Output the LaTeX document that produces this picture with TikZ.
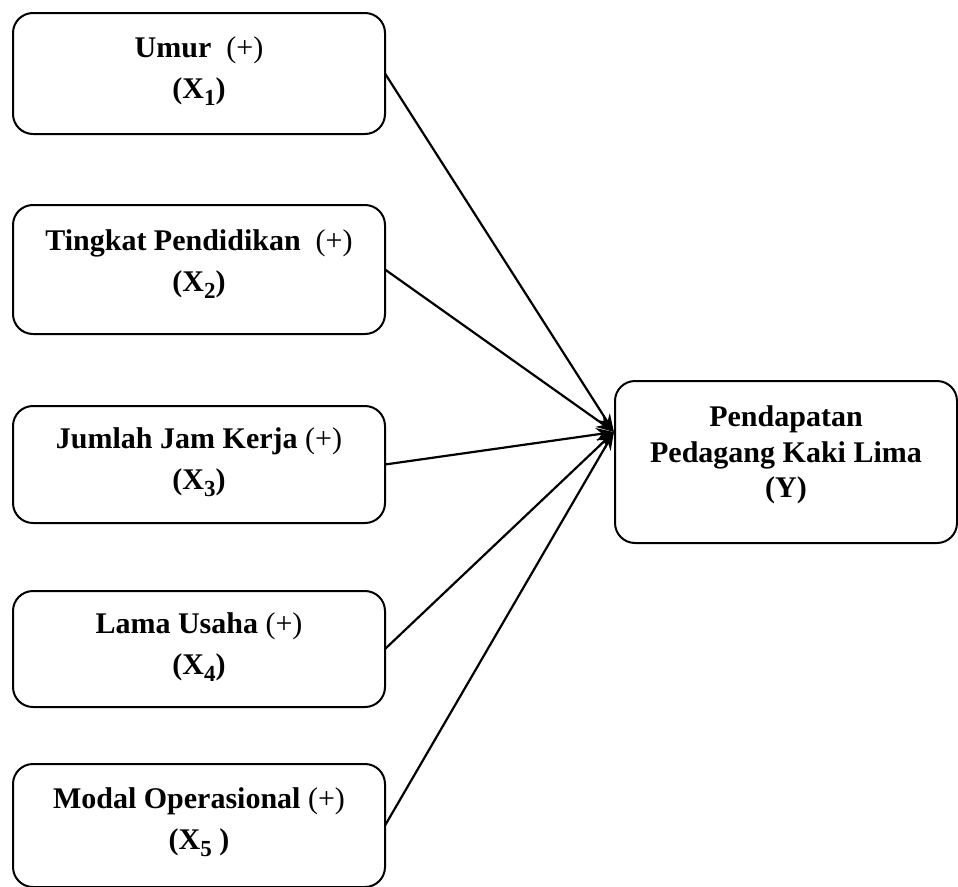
\documentclass[tikz,border=0pt]{standalone}
\usepackage{fontspec}
\setmainfont{Liberation Serif}
\usetikzlibrary{arrows.meta}
\newcommand{\subX}[1]{\raisebox{-7pt}{\fontsize{23}{23}\selectfont #1}}
\newcommand{\pl}{\textmd{(+)}}
\begin{document}
\begin{tikzpicture}[x=1pt,y=-1pt,
  box/.style={draw, line width=2pt, rounded corners=20pt, outer sep=0pt, inner sep=0pt},
  lbl/.style={font=\fontsize{30}{41}\selectfont\bfseries, align=center, inner sep=0pt},
  ylbl/.style={font=\fontsize{30}{35.5}\selectfont\bfseries, align=center, inner sep=0pt},
  conn/.style={line width=2.2pt, -{Stealth[length=18pt,width=13pt]}}]
\useasboundingbox (0,0) rectangle (958,886);
% boxes
\node[box, minimum width=372pt, minimum height=121pt] (b1) at (199,73.5) {};
\node[box, minimum width=372pt, minimum height=129pt] (b2) at (199,269.5) {};
\node[box, minimum width=372pt, minimum height=117pt] (b3) at (199,464.5) {};
\node[box, minimum width=372pt, minimum height=116pt] (b4) at (199,649) {};
\node[box, minimum width=372pt, minimum height=123pt] (b5) at (199,825.5) {};
\node[box, minimum width=342pt, minimum height=162pt] (y) at (786,462) {};
% labels
\node[lbl] (t1) at (199,71.5) {Umur\ \ \pl\\(X\subX{1})};
\node[lbl] (t2) at (199,264.5) {Tingkat Pendidikan\ \ \pl\\(X\subX{2})};
\node[lbl] (t3) at (199,462.5) {Jumlah Jam Kerja \pl\\(X\subX{3})};
\node[lbl] (t4) at (199,647.5) {Lama Usaha \pl\\(X\subX{4})};
\node[lbl] (t5) at (199,822) {Modal Operasional \pl\\(X\subX{5} )};
\node[ylbl] (ty) at (786,455) {Pendapatan\\Pedagang Kaki Lima\\(Y)};
% connectors
\coordinate (tip) at (614,432);
\draw[conn] (b1.east) -- (tip);
\draw[conn] (b2.east) -- (tip);
\draw[conn] (b3.east) -- (tip);
\draw[conn] (b4.east) -- (tip);
\draw[conn] (b5.east) -- (tip);
\end{tikzpicture}
\end{document}
